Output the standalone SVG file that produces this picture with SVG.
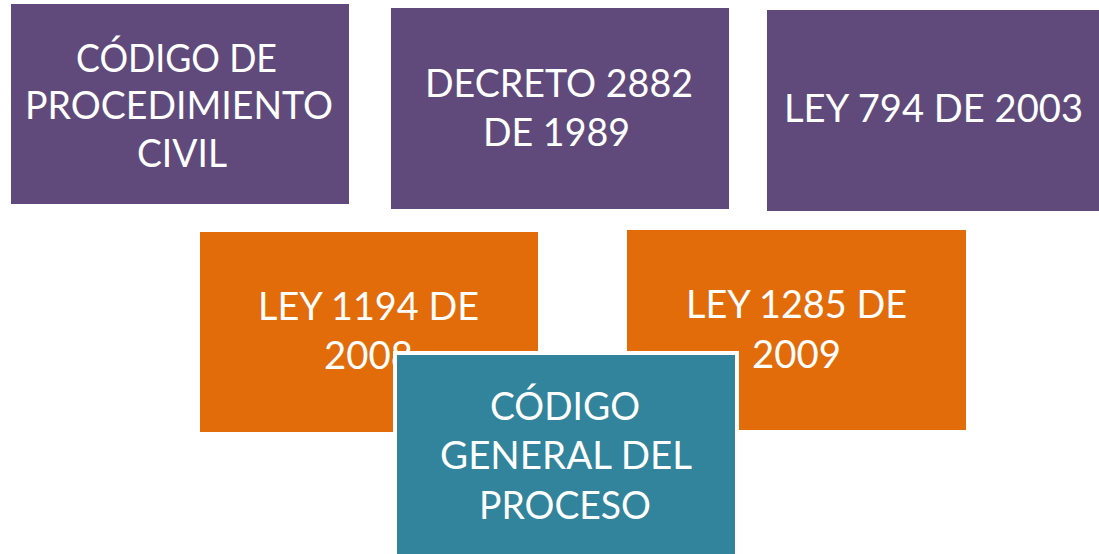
<svg xmlns="http://www.w3.org/2000/svg" width="1099" height="554" viewBox="0 0 1099 554">
<style>
.p{fill:#604a7b}
.o{fill:#e36c0a}
.t{fill:#31849b;stroke:#ffffff;stroke-width:4}
text{font-family:Lato,"Open Sans","Liberation Sans",sans-serif;font-size:39px;fill:#ffffff;text-anchor:middle}
</style>
<rect width="1099" height="554" fill="#ffffff"/>
<g id="connectors"></g>
<g id="n1">
<rect class="p" x="11" y="4" width="338" height="200"/>
<text x="176.5" y="72" textLength="201" lengthAdjust="spacingAndGlyphs">CÓDIGO DE</text>
<text x="179" y="119" textLength="308" lengthAdjust="spacingAndGlyphs">PROCEDIMIENTO</text>
<text x="182" y="167" textLength="90" lengthAdjust="spacingAndGlyphs">CIVIL</text>
</g>
<g id="n2">
<rect class="p" x="391" y="8" width="338" height="201"/>
<text x="559" y="97" textLength="268" lengthAdjust="spacingAndGlyphs">DECRETO 2882</text>
<text x="556.5" y="146" textLength="147" lengthAdjust="spacingAndGlyphs">DE 1989</text>
</g>
<g id="n3">
<rect class="p" x="767" y="10" width="338" height="201"/>
<text x="933.5" y="122" textLength="299" lengthAdjust="spacingAndGlyphs">LEY 794 DE 2003</text>
</g>
<g id="n4">
<rect class="o" x="200" y="232" width="338" height="200"/>
<text x="368.5" y="320" textLength="221" lengthAdjust="spacingAndGlyphs">LEY 1194 DE</text>
<text x="368.5" y="369" textLength="89" lengthAdjust="spacingAndGlyphs">2008</text>
</g>
<g id="n5">
<rect class="o" x="627" y="230" width="339" height="200"/>
<text x="796.5" y="318" textLength="221" lengthAdjust="spacingAndGlyphs">LEY 1285 DE</text>
<text x="796.5" y="368" textLength="89" lengthAdjust="spacingAndGlyphs">2009</text>
</g>
<g id="n6">
<rect class="t" x="395" y="353" width="342" height="206"/>
<text x="565" y="420" textLength="150" lengthAdjust="spacingAndGlyphs">CÓDIGO</text>
<text x="566" y="469" textLength="252" lengthAdjust="spacingAndGlyphs">GENERAL DEL</text>
<text x="565" y="519" textLength="172" lengthAdjust="spacingAndGlyphs">PROCESO</text>
</g>
</svg>
